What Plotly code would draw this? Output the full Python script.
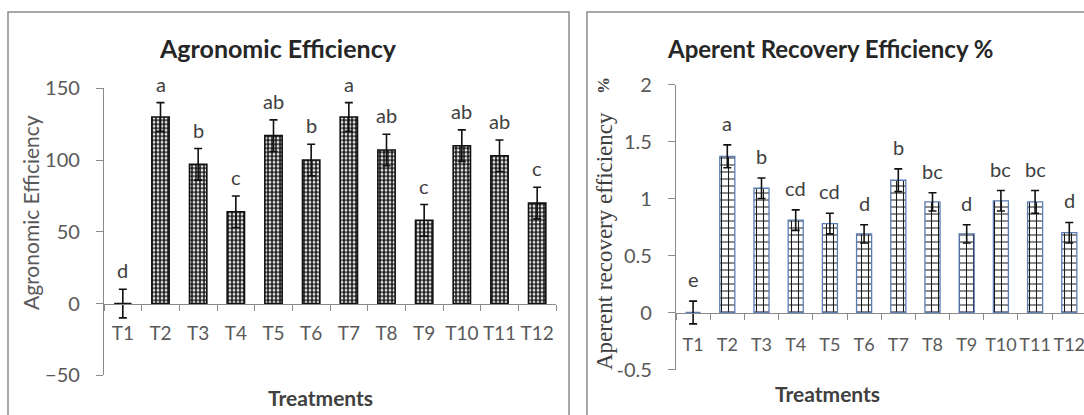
import plotly.graph_objects as go

# ---------------- data ----------------
treatments = ["T1", "T2", "T3", "T4", "T5", "T6", "T7", "T8", "T9", "T10", "T11", "T12"]

ae_values = [0, 130, 97, 64, 117, 100, 130, 107, 58, 110, 103, 70]
ae_errors = [10, 10, 11, 11, 11, 11, 10, 11, 11, 11, 11, 11]
ae_letters = ["d", "a", "b", "c", "ab", "b", "a", "ab", "c", "ab", "ab", "c"]

are_values = [0, 1.37, 1.09, 0.81, 0.78, 0.69, 1.16, 0.97, 0.69, 0.98, 0.97, 0.70]
are_errors = [0.1, 0.1, 0.09, 0.09, 0.09, 0.08, 0.1, 0.08, 0.08, 0.09, 0.1, 0.09]
are_letters = ["e", "a", "b", "cd", "cd", "d", "b", "bc", "d", "bc", "bc", "d"]

ae_ticks = [-50, 0, 50, 100, 150]
are_ticks = [-0.5, 0, 0.5, 1, 1.5, 2]
are_tick_text = ["-0.5", "0", "0.5", "1", "1.5", "2"]

# ---------------- layout helpers ----------------
W, H = 1084, 415
def fx(px):
    return px / W
def fy(py):
    return 1 - py / H

FONT = "Lato"
TICK_COLOR = "#595959"
AXIS_COLOR = "#8a8a8a"

# left plot geometry
L_dom_x = [fx(104), fx(556)]
L_rng_y = [-50, 150]
L_dom_y = [fy(375.3), fy(88.3)]
# right plot geometry
R_dom_x = [fx(676), 1.0]
R_rng_y = [-0.5, 2]
R_dom_y = [fy(369.5), fy(84.5)]

def zero_pos(dom, rng):
    return dom[0] + (0 - rng[0]) / (rng[1] - rng[0]) * (dom[1] - dom[0])

fig = go.Figure()

fig.add_trace(go.Bar(
    x=treatments, y=ae_values,
    xaxis="x", yaxis="y",
    width=0.46,
    marker=dict(
        color="#1c1c1c",
        line=dict(color="#111111", width=1.6),
        pattern=dict(shape=".", bgcolor="#1c1c1c", fgcolor="#e6e6e6", size=4,
                     solidity=0.4, fillmode="replace"),
    ),
    error_y=dict(type="data", array=ae_errors, visible=True, color="#111111", thickness=1.6, width=4),
    showlegend=False,
))

fig.add_trace(go.Bar(
    x=treatments, y=are_values,
    xaxis="x2", yaxis="y2",
    width=0.44,
    marker=dict(
        color="#ffffff",
        line=dict(color="#5b7db5", width=1.3),
        pattern=dict(shape="+", bgcolor="#ffffff", fgcolor="#1a1a1a", size=7,
                     solidity=0.28, fillmode="replace"),
    ),
    error_y=dict(type="data", array=are_errors, visible=True, color="#111111", thickness=1.6, width=4),
    showlegend=False,
))

common_x = dict(
    type="category", showline=True, linecolor=AXIS_COLOR, linewidth=1.2,
    ticks="outside", tickson="boundaries", ticklen=6, tickcolor=AXIS_COLOR,
    showgrid=False, zeroline=False, anchor="free", automargin=False,
    tickangle=0,
    tickfont=dict(family=FONT, size=19, color=TICK_COLOR),
    ticklabelstandoff=13,
)
common_y = dict(
    showline=True, linecolor=AXIS_COLOR, linewidth=1.2,
    ticks="outside", ticklen=7, tickcolor=AXIS_COLOR,
    showgrid=False, zeroline=False, automargin=False,
    tickfont=dict(family=FONT, size=20, color=TICK_COLOR),
    ticklabelstandoff=12,
)

fig.update_layout(
    width=W, height=H, autosize=False,
    margin=dict(l=0, r=0, t=0, b=0, autoexpand=False),
    paper_bgcolor="white", plot_bgcolor="rgba(0,0,0,0)",
    xaxis=dict(common_x, domain=L_dom_x, range=[-0.5, 11.5],
               position=zero_pos(L_dom_y, L_rng_y)),
    yaxis=dict(common_y, domain=L_dom_y, range=L_rng_y, anchor="x",
               tickvals=ae_ticks),
    xaxis2=dict(common_x, domain=R_dom_x, range=[-0.5, 11.43],
                position=zero_pos(R_dom_y, R_rng_y),
                tickfont=dict(family=FONT, size=18, color=TICK_COLOR),
                ticklabelstandoff=16),
    yaxis2=dict(common_y, domain=R_dom_y, range=R_rng_y, anchor="x2",
                tickvals=are_ticks, ticktext=are_tick_text),
)

annotations = []
# significance letters
for t, v, e, s in zip(treatments, ae_values, ae_errors, ae_letters):
    annotations.append(dict(x=t, y=v + e, xref="x", yref="y", text=s, showarrow=False,
                            yanchor="middle", yshift=19,
                            font=dict(family=FONT, size=20, color="#404040")))
for t, v, e, s in zip(treatments, are_values, are_errors, are_letters):
    annotations.append(dict(x=t, y=v + e, xref="x2", yref="y2", text=s, showarrow=False,
                            yanchor="middle", yshift=22,
                            font=dict(family=FONT, size=20, color="#404040")))

# titles
annotations.append(dict(x=fx(278), y=fy(48), xref="paper", yref="paper",
                        text="<b>Agronomic Efficiency</b>", showarrow=False,
                        xanchor="center", yanchor="middle",
                        font=dict(family=FONT, size=25, color="#262626")))
annotations.append(dict(x=fx(830), y=fy(48), xref="paper", yref="paper",
                        text="<b>Aperent Recovery Efficiency %</b>", showarrow=False,
                        xanchor="center", yanchor="middle",
                        font=dict(family=FONT, size=24, color="#262626")))
# x-axis titles
annotations.append(dict(x=fx(320), y=fy(397), xref="paper", yref="paper",
                        text="<b>Treatments</b>", showarrow=False,
                        xanchor="center", yanchor="middle",
                        font=dict(family=FONT, size=21, color="#404040")))
annotations.append(dict(x=fx(827), y=fy(393), xref="paper", yref="paper",
                        text="<b>Treatments</b>", showarrow=False,
                        xanchor="center", yanchor="middle",
                        font=dict(family=FONT, size=21, color="#404040")))
# y-axis titles
annotations.append(dict(x=fx(31), y=fy(213), xref="paper", yref="paper",
                        text="Agronomic Efficiency", showarrow=False, textangle=-90,
                        xanchor="center", yanchor="middle",
                        font=dict(family=FONT, size=21, color="#595959")))
annotations.append(dict(x=fx(604), y=fy(241), xref="paper", yref="paper",
                        text="Aperent recovery efficiency", showarrow=False, textangle=-90,
                        xanchor="center", yanchor="middle",
                        font=dict(family="Liberation Serif", size=23, color="#404040")))
annotations.append(dict(x=fx(604), y=fy(86), xref="paper", yref="paper",
                        text="<b>%</b>", showarrow=False, textangle=-90,
                        xanchor="center", yanchor="middle",
                        font=dict(family="Liberation Serif", size=17, color="#404040")))
fig.update_layout(annotations=annotations)

# panel borders
fig.add_shape(type="rect", xref="paper", yref="paper",
              x0=fx(8), x1=fx(569), y0=-0.2, y1=fy(12),
              line=dict(color="#8c8c8c", width=1.5), layer="below")
fig.add_shape(type="rect", xref="paper", yref="paper",
              x0=fx(587), x1=1.2, y0=-0.2, y1=fy(12),
              line=dict(color="#8c8c8c", width=1.5), layer="below")

fig.write_html("out.html")
